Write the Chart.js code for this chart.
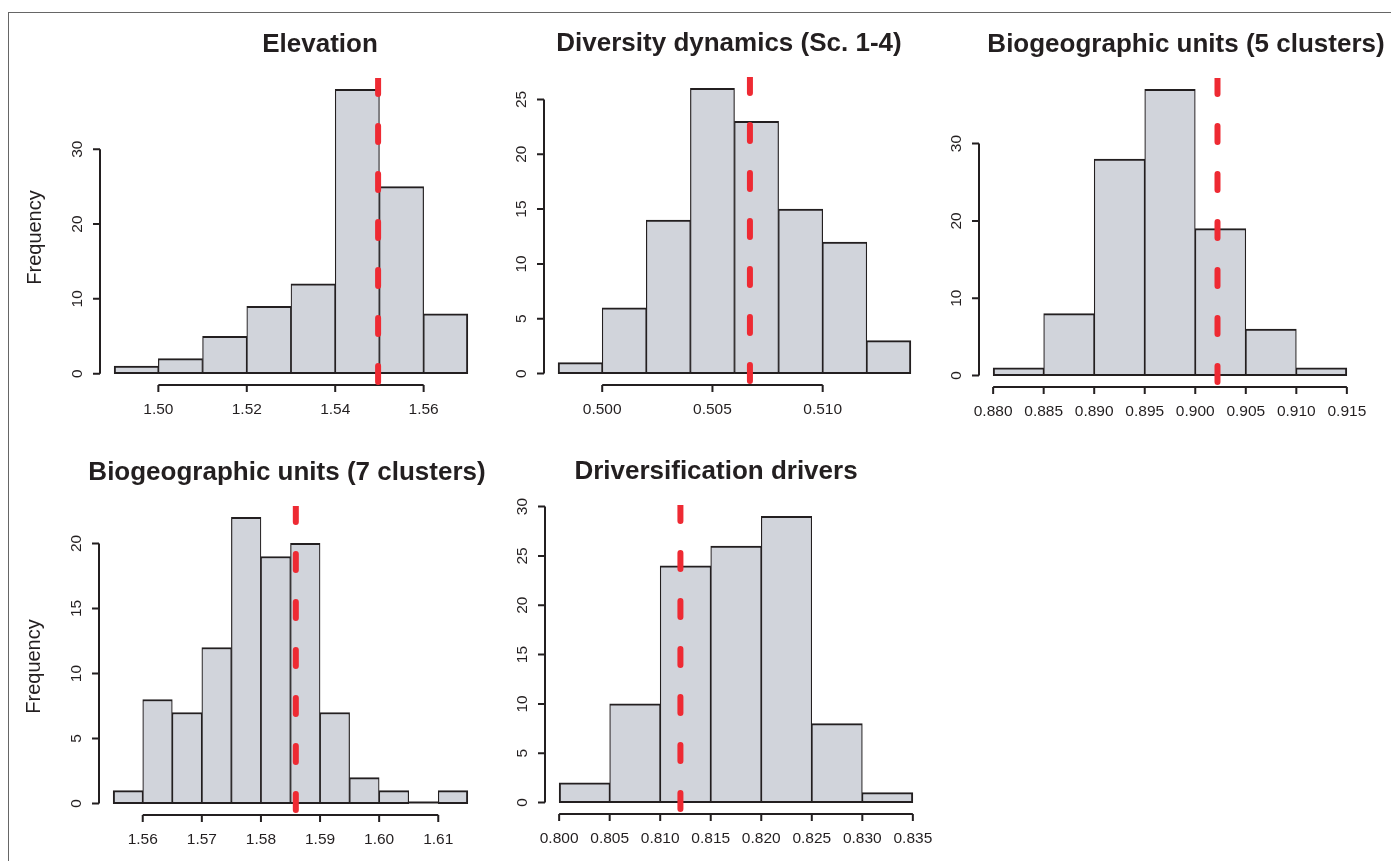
<!DOCTYPE html>
<html>
<head>
<meta charset="utf-8">
<script src="https://cdn.jsdelivr.net/npm/chart.js@4.4.0/dist/chart.umd.min.js"></script>
<style>
  body { margin: 0; background: #fff; }
  #wrap { position: relative; width: 1391px; height: 861px; overflow: hidden; }
  #frame { position: absolute; left: 8px; top: 12px; right: 0; bottom: 0;
           border-top: 1px solid #666; border-left: 1px solid #666; }
  canvas { position: absolute; }
</style>
</head>
<body>
<div id="wrap"><div id="frame"></div></div>
<script>
// histogram data (100 runs each)
var elevBreaks = [1.49, 1.50, 1.51, 1.52, 1.53, 1.54, 1.55, 1.56, 1.57];
var elevCounts = [1, 2, 5, 9, 12, 38, 25, 8];
var elevXTicks = ['1.50', '1.52', '1.54', '1.56'];
var elevYTicks = [0, 10, 20, 30];
var elevRef = 1.5497;

var divBreaks = [0.498, 0.500, 0.502, 0.504, 0.506, 0.508, 0.510, 0.512, 0.514];
var divCounts = [1, 6, 14, 26, 23, 15, 12, 3];
var divXTicks = ['0.500', '0.505', '0.510'];
var divYTicks = [0, 5, 10, 15, 20, 25];
var divRef = 0.5067;

var bio5Breaks = [0.880, 0.885, 0.890, 0.895, 0.900, 0.905, 0.910, 0.915];
var bio5Counts = [1, 8, 28, 37, 19, 6, 1];
var bio5XTicks = ['0.880', '0.885', '0.890', '0.895', '0.900', '0.905', '0.910', '0.915'];
var bio5YTicks = [0, 10, 20, 30];
var bio5Ref = 0.9022;

var bio7Breaks = [1.555, 1.560, 1.565, 1.570, 1.575, 1.580, 1.585, 1.590, 1.595, 1.600, 1.605, 1.610, 1.615];
var bio7Counts = [1, 8, 7, 12, 22, 19, 20, 7, 2, 1, 0, 1];
var bio7XTicks = ['1.56', '1.57', '1.58', '1.59', '1.60', '1.61'];
var bio7YTicks = [0, 5, 10, 15, 20];
var bio7Ref = 1.5859;

var drvBreaks = [0.800, 0.805, 0.810, 0.815, 0.820, 0.825, 0.830, 0.835];
var drvCounts = [2, 10, 24, 26, 29, 8, 1];
var drvXTicks = ['0.800', '0.805', '0.810', '0.815', '0.820', '0.825', '0.830', '0.835'];
var drvYTicks = [0, 5, 10, 15, 20, 25, 30];
var drvRef = 0.8120;

var INK = '#231f20';
var FONT = '"Liberation Sans", Arial, Helvetica, sans-serif';
var PAD = { left: 95, top: 70, right: 30, bottom: 50 };

// plot boxes on the page (left, top, right, bottom) and title centre x
var panels = [
  { title: 'Elevation', breaks: elevBreaks, counts: elevCounts, xt: elevXTicks, yt: elevYTicks, ref: elevRef,
    box: [100, 78, 482, 385], titleX: 320, ylab: true },
  { title: 'Diversity dynamics (Sc. 1-4)', breaks: divBreaks, counts: divCounts, xt: divXTicks, yt: divYTicks, ref: divRef,
    box: [544, 77, 925, 385], titleX: 729, ylab: false },
  { title: 'Biogeographic units (5 clusters)', breaks: bio5Breaks, counts: bio5Counts, xt: bio5XTicks, yt: bio5YTicks, ref: bio5Ref,
    box: [979, 78, 1361, 387], titleX: 1186, ylab: false },
  { title: 'Biogeographic units (7 clusters)', breaks: bio7Breaks, counts: bio7Counts, xt: bio7XTicks, yt: bio7YTicks, ref: bio7Ref,
    box: [99, 506, 482, 815], titleX: 287, ylab: true },
  { title: 'Driversification drivers', breaks: drvBreaks, counts: drvCounts, xt: drvXTicks, yt: drvYTicks, ref: drvRef,
    box: [545, 505, 927, 814], titleX: 716, ylab: false }
];

// base-R style axes, title and y label
var rAxes = {
  id: 'rAxes',
  beforeDatasetsDraw: function (chart, args, o) {
    var ctx = chart.ctx, a = chart.chartArea, x = chart.scales.x, y = chart.scales.y;
    ctx.save();
    ctx.strokeStyle = INK;
    ctx.fillStyle = INK;
    ctx.lineWidth = 2;

    // zero line under the bars (shows empty bins), same place as bar bottoms
    var y0 = y.getPixelForValue(0) - 1;
    ctx.beginPath();
    ctx.moveTo(x.getPixelForValue(o.breaks[0]), y0);
    ctx.lineTo(x.getPixelForValue(o.breaks[o.breaks.length - 1]), y0);
    ctx.stroke();

    // x axis
    var xv = o.xt.map(Number);
    ctx.beginPath();
    ctx.moveTo(x.getPixelForValue(xv[0]), a.bottom);
    ctx.lineTo(x.getPixelForValue(xv[xv.length - 1]), a.bottom);
    xv.forEach(function (v) {
      var px = x.getPixelForValue(v);
      ctx.moveTo(px, a.bottom);
      ctx.lineTo(px, a.bottom + 7);
    });
    ctx.stroke();
    ctx.font = '15.5px ' + FONT;
    ctx.textAlign = 'center';
    ctx.textBaseline = 'alphabetic';
    o.xt.forEach(function (t, i) {
      ctx.fillText(t, x.getPixelForValue(xv[i]), a.bottom + 28.5);
    });

    // y axis
    var yv = o.yt;
    ctx.beginPath();
    ctx.moveTo(a.left, y.getPixelForValue(yv[0]));
    ctx.lineTo(a.left, y.getPixelForValue(yv[yv.length - 1]));
    yv.forEach(function (v) {
      var py = y.getPixelForValue(v);
      ctx.moveTo(a.left, py);
      ctx.lineTo(a.left - 7, py);
    });
    ctx.stroke();
    yv.forEach(function (v) {
      ctx.save();
      ctx.translate(a.left - 18, y.getPixelForValue(v));
      ctx.rotate(-Math.PI / 2);
      ctx.fillText(String(v), 0, 0);
      ctx.restore();
    });

    // title
    ctx.font = 'bold 26px ' + FONT;
    ctx.fillText(o.title, o.titleX, a.top - 26);

    if (o.ylab) {
      ctx.save();
      ctx.translate(a.left - 59, (a.top + a.bottom) / 2 + 6);
      ctx.rotate(-Math.PI / 2);
      ctx.font = '20px ' + FONT;
      ctx.fillText('Frequency', 0, 0);
      ctx.restore();
    }
    ctx.restore();
  }
};

var wrap = document.getElementById('wrap');

panels.forEach(function (p) {
  var b = p.box;
  var cv = document.createElement('canvas');
  var left = b[0] - PAD.left, top = b[1] - PAD.top;
  cv.width = (b[2] - b[0]) + PAD.left + PAD.right;
  cv.height = (b[3] - b[1]) + PAD.top + PAD.bottom;
  cv.style.left = left + 'px';
  cv.style.top = top + 'px';
  wrap.appendChild(cv);

  var n = p.breaks.length;
  var span = p.breaks[n - 1] - p.breaks[0];
  var ymax = Math.max.apply(null, p.counts);
  var last = p.counts.length - 1;

  var bars = p.counts.map(function (c, i) {
    return { x: (p.breaks[i] + p.breaks[i + 1]) / 2, y: c };
  });

  new Chart(cv, {
    type: 'bar',
    data: {
      datasets: [
        {
          type: 'line',
          data: [{ x: p.ref, y: ymax * 1.04 }, { x: p.ref, y: -ymax * 0.04 }],
          borderColor: '#ee2a33',
          borderWidth: 6,
          borderDash: [16, 32],
          borderCapStyle: 'round',
          pointRadius: 0,
          order: 0
        },
        {
          type: 'bar',
          data: bars,
          backgroundColor: '#d1d4db',
          borderColor: INK,
          borderWidth: function (c) {
            return {
              top: 2, bottom: 2,
              left: c.dataIndex === 0 ? 2 : 1.2,
              right: c.dataIndex === last ? 2 : 1.2
            };
          },
          borderSkipped: false,
          barPercentage: 1,
          categoryPercentage: 1,
          order: 1
        }
      ]
    },
    options: {
      responsive: false,
      animation: false,
      events: [],
      layout: { padding: PAD },
      scales: {
        x: { type: 'linear', display: false, offset: false,
             min: p.breaks[0] - 0.04 * span, max: p.breaks[n - 1] + 0.04 * span },
        y: { display: false, min: -0.04 * ymax, max: 1.04 * ymax }
      },
      plugins: {
        legend: { display: false },
        tooltip: { enabled: false },
        rAxes: {
          title: p.title, titleX: p.titleX - left, ylab: p.ylab,
          breaks: p.breaks, xt: p.xt, yt: p.yt
        }
      }
    },
    plugins: [rAxes]
  });
});
</script>
</body>
</html>
